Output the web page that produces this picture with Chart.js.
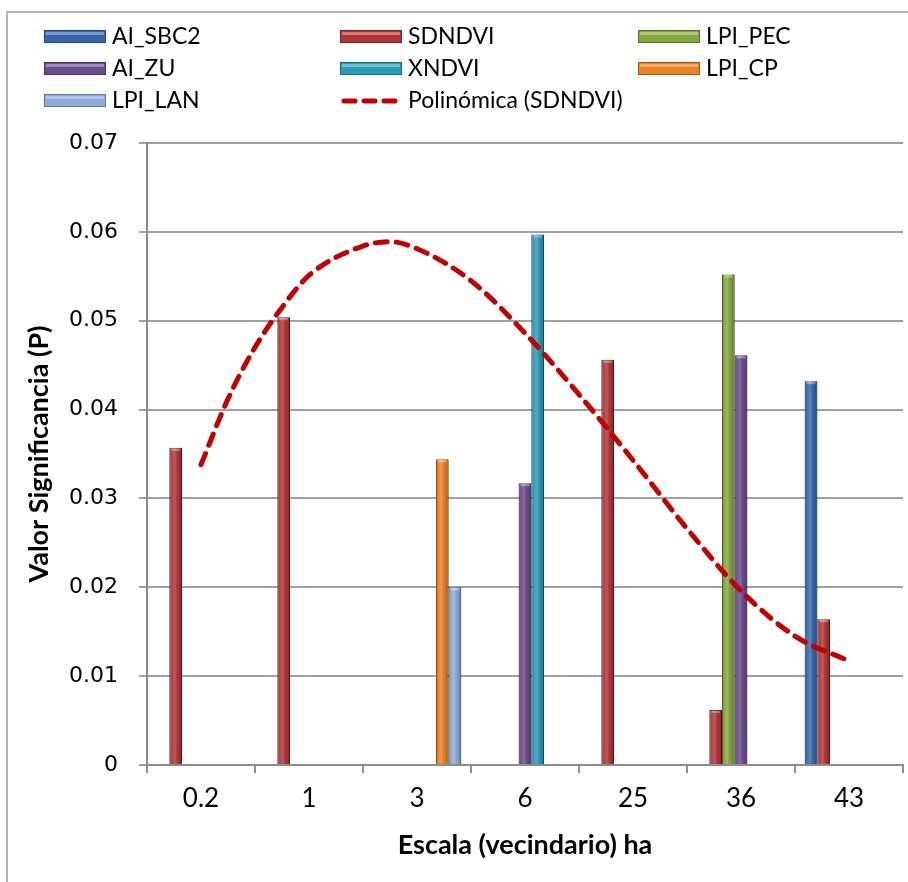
<!DOCTYPE html>
<html>
<head>
<meta charset="utf-8">
<script src="https://cdn.jsdelivr.net/npm/chart.js@4"></script>
<style>
  body { margin: 0; background: #fff; }
</style>
</head>
<body>
<canvas id="chart" width="908" height="882"></canvas>
<script>
// categories (neighbourhood scale, ha)
const categories = ['0.2', '1', '3', '6', '25', '36', '43'];

// P values per series
const aiSbc2 = [null, null, null, null, null, null, 0.0432];
const sdndvi = [0.0357, 0.0504, null, null, 0.0456, 0.0062, 0.0164];
const lpiPec = [null, null, null, null, null, 0.0552, null];
const aiZu   = [null, null, null, 0.0317, null, 0.0461, null];
const xndvi  = [null, null, null, 0.0597, null, null, null];
const lpiCp  = [null, null, 0.0344, null, null, null, null];
const lpiLan = [null, null, 0.0200, null, null, null, null];

// polynomial trend of SDNDVI, read at category positions (0 = "0.2", 6 = "43")
const trendX = [0, 0.25, 0.5, 0.75, 1, 1.5, 1.75, 2, 2.5, 3, 3.5, 4, 4.5, 5, 5.5, 6];
const trendY = [0.0338, 0.0412, 0.0470, 0.0515, 0.0551, 0.0584, 0.0589, 0.0581,
                0.0545, 0.0486, 0.0417, 0.0343, 0.0266, 0.0196, 0.0145, 0.0117];

const yTicks = [0, 0.01, 0.02, 0.03, 0.04, 0.05, 0.06, 0.07];

// bars and trend share one linear x axis: category i sits at x = i
function bars(label, values, fill, edge) {
  return {
    type: 'bar', label: label,
    data: values.map(function (v, i) { return { x: i, y: v }; }),
    backgroundColor: fill, borderColor: edge, borderWidth: 1,
    categoryPercentage: 0.82, barPercentage: 1, order: 1
  };
}

// cylinder-ish shading on top of each bar
const barShade = {
  id: 'barShade',
  afterDatasetDraw(chart, args) {
    const meta = args.meta;
    if (meta.type !== 'bar') return;
    const ctx = chart.ctx;
    ctx.save();
    meta.data.forEach(function (el) {
      if (el.skip || el.base === undefined || isNaN(el.y)) return;
      const left = el.x - el.width / 2, w = el.width;
      const g = ctx.createLinearGradient(left, 0, left + w, 0);
      g.addColorStop(0, 'rgba(0,0,0,0.22)');
      g.addColorStop(0.3, 'rgba(255,255,255,0.12)');
      g.addColorStop(0.45, 'rgba(255,255,255,0.18)');
      g.addColorStop(0.7, 'rgba(0,0,0,0.05)');
      g.addColorStop(1, 'rgba(0,0,0,0.32)');
      ctx.fillStyle = g;
      ctx.fillRect(left, el.y, w, el.base - el.y);
      // small light cap at the top
      ctx.fillStyle = 'rgba(255,255,255,0.35)';
      ctx.fillRect(left + 2, el.y + 1, w - 4, 2);
    });
    ctx.restore();
  }
};

// Excel-like legend: 3 columns
const gridLegend = {
  id: 'gridLegend',
  afterDraw(chart) {
    const ctx = chart.ctx;
    const cols = [44, 340, 638];
    const rows = [37, 69, 101];
    chart.data.datasets.forEach(function (ds, i) {
      const x = cols[i % 3], y = rows[Math.floor(i / 3)];
      ctx.save();
      if (ds.type === 'line') {
        ctx.strokeStyle = ds.borderColor;
        ctx.lineWidth = 5;
        ctx.lineCap = 'round';
        ctx.setLineDash([11, 9]);
        ctx.beginPath();
        ctx.moveTo(x + 4, y);
        ctx.lineTo(x + 62, y);
        ctx.stroke();
      } else {
        ctx.fillStyle = ds.backgroundColor;
        ctx.fillRect(x, y - 7, 62, 13);
        ctx.fillStyle = 'rgba(255,255,255,0.35)';
        ctx.fillRect(x + 2, y - 5, 58, 3);
        ctx.strokeStyle = ds.borderColor;
        ctx.lineWidth = 1;
        ctx.strokeRect(x + 0.5, y - 6.5, 61, 12);
      }
      ctx.fillStyle = '#000';
      ctx.font = '23px Lato';
      ctx.textBaseline = 'middle';
      ctx.fillText(ds.label, x + 68, y);
      ctx.restore();
    });
  }
};

// outer frame (only top and left edges fall inside the picture)
const frame = {
  id: 'frame',
  beforeDraw(chart) {
    const ctx = chart.ctx;
    ctx.save();
    ctx.strokeStyle = '#b4b4b4';
    ctx.lineWidth = 2;
    ctx.beginPath();
    ctx.moveTo(7, 882);
    ctx.lineTo(7, 12);
    ctx.lineTo(908, 12);
    ctx.stroke();
    ctx.restore();
  }
};

const ctx = document.getElementById('chart').getContext('2d');
new Chart(ctx, {
  type: 'bar',
  data: {
    datasets: [
      bars('AI_SBC2', aiSbc2, '#3767ab', '#24487a'),
      bars('SDNDVI', sdndvi, '#b33636', '#7a2222'),
      bars('LPI_PEC', lpiPec, '#84a83c', '#57702a'),
      bars('AI_ZU', aiZu, '#6a4c90', '#483263'),
      bars('XNDVI', xndvi, '#2b9ab8', '#1b6a80'),
      bars('LPI_CP', lpiCp, '#ea8222', '#a85a14'),
      bars('LPI_LAN', lpiLan, '#8eaad8', '#5f7aa3'),
      {
        type: 'line', label: 'Polinómica (SDNDVI)',
        data: trendX.map(function (x, i) { return { x: x, y: trendY[i] }; }),
        borderColor: '#c00000', borderWidth: 5,
        borderDash: [12, 9], borderCapStyle: 'round',
        pointRadius: 0, cubicInterpolationMode: 'monotone', fill: false, order: -1
      }
    ]
  },
  options: {
    responsive: false,
    animation: false,
    events: [],
    layout: { padding: { top: 143, right: 5, bottom: 0, left: 0 } },
    plugins: {
      legend: { display: false },
      tooltip: { enabled: false }
    },
    scales: {
      x: {
        type: 'linear',
        min: -0.5, max: 6.5,
        offset: false,
        afterBuildTicks: function (scale) {
          scale.ticks = categories.map(function (c, i) { return { value: i }; });
        },
        grid: { display: true, drawOnChartArea: false, offset: true, color: '#8c8c8c', lineWidth: 2, tickLength: 8 },
        border: { color: '#8c8c8c', width: 2 },
        ticks: {
          color: '#000', font: { family: 'Lato', size: 26 }, padding: 10, maxRotation: 0,
          callback: function (v) { return categories[v]; }
        },
        title: {
          display: true, text: 'Escala (vecindario) ha', color: '#000',
          font: { family: 'Lato', size: 27, weight: 'bold' }, padding: { top: 0, bottom: 21 }
        },
        afterFit: function (scale) { scale.height = 117; }
      },
      y: {
        min: 0, max: 0.07,
        afterBuildTicks: function (scale) { scale.ticks = yTicks.map(function (v) { return { value: v }; }); },
        grid: { color: '#a0a0a0', lineWidth: 2, tickLength: 8 },
        border: { color: '#8c8c8c', width: 2 },
        ticks: {
          color: '#000', font: { family: 'DejaVu Sans', size: 22 }, padding: 21,
          callback: function (v) { return v === 0 ? '0' : v.toFixed(2); }
        },
        title: {
          display: true, text: 'Valor Significancia (P)', color: '#000',
          font: { family: 'Lato', size: 27, weight: 'bold' }, padding: { top: 23, bottom: 0 }
        },
        afterFit: function (scale) { scale.width = 147; }
      }
    }
  },
  plugins: [frame, barShade, gridLegend]
});
</script>
</body>
</html>
